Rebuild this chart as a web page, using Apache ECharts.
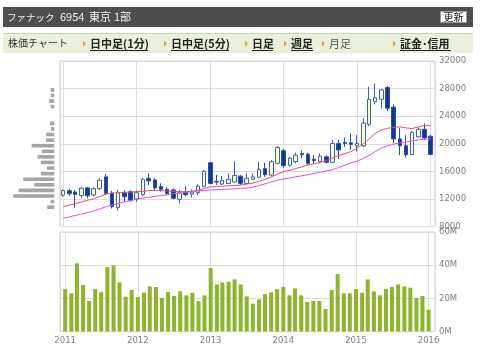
<!DOCTYPE html>
<html><head><meta charset="utf-8">
<script src="https://cdn.jsdelivr.net/npm/echarts@6/dist/echarts.min.js"></script>
<style>html,body{margin:0;padding:0;background:#fff}#c{width:480px;height:359px}</style>
</head><body><div id="c"></div>
<script>
// ---- data ----
const months = ['2011-01','2011-02','2011-03','2011-04','2011-05','2011-06','2011-07','2011-08','2011-09','2011-10','2011-11','2011-12',
'2012-01','2012-02','2012-03','2012-04','2012-05','2012-06','2012-07','2012-08','2012-09','2012-10','2012-11','2012-12',
'2013-01','2013-02','2013-03','2013-04','2013-05','2013-06','2013-07','2013-08','2013-09','2013-10','2013-11','2013-12',
'2014-01','2014-02','2014-03','2014-04','2014-05','2014-06','2014-07','2014-08','2014-09','2014-10','2014-11','2014-12',
'2015-01','2015-02','2015-03','2015-04','2015-05','2015-06','2015-07','2015-08','2015-09','2015-10','2015-11','2015-12','2016-01'];
const open = [12550,13190,13000,12500,13600,12570,13500,15200,12850,10750,12900,13050,
12000,12650,15000,14750,13800,13400,13300,11950,13000,12700,12900,13850,
17250,14550,14150,14250,14450,15300,14250,14850,15150,16400,15450,17150,
19000,16900,17400,18600,18500,17750,17400,18100,17300,20050,20200,20150,
19700,19700,22800,26100,26450,28150,25300,20700,19700,18450,21000,22100,21100];
const close = [13200,12750,12650,13550,12450,13480,14700,12800,10900,12900,12300,11800,
12900,14850,14600,13600,13400,12800,12100,12900,12600,13000,13850,16000,
14250,14450,14650,14850,15400,14250,15000,15200,16300,15500,17400,19450,
16800,17900,18350,18400,17150,17550,18200,17300,20050,19100,20050,19900,
20050,23000,26450,26650,27800,25150,20700,19700,18400,21650,22100,20850,18450];
const low = [12320,12460,10750,12100,12100,12350,13300,12550,10600,10300,11600,11600,
11600,12400,14000,13300,13050,12550,11940,11350,12400,12200,12550,13650,
14150,14000,14000,14150,14350,14000,14100,14750,15000,15200,15300,17050,
16500,16650,17150,17900,16900,17050,17150,17150,17250,17800,19550,19100,
18850,19550,22600,25700,25100,24750,20050,18350,18000,18350,20900,20550,18350];
const high = [13390,13480,13300,13680,13750,13700,15000,15600,13150,13300,13250,13250,
13200,15050,15700,15000,14250,13700,13540,13300,13850,13400,14100,16200,
17350,15500,15350,15700,17500,15450,15700,15700,17400,17250,17650,19650,
19200,18100,18700,19000,18700,18350,18600,18400,20550,20550,20900,21500,
21250,23700,28250,28750,27950,28400,25700,22300,21250,21850,22350,22950,21200];
const volume = [25.6,23.0,41.1,28.0,18.4,25.6,23.8,38.9,39.9,29.6,21.0,25.0,
20.8,23.4,27.2,26.8,20.2,23.8,21.4,24.2,21.8,23.4,18.2,21.8,
38.3,28.4,29.6,30.0,31.4,28.4,21.2,16.8,19.4,22.6,23.6,25.6,
26.8,21.8,26.0,21.8,17.8,18.4,18.4,13.6,25.0,34.6,23.0,23.0,
25.6,23.4,31.4,24.2,21.8,25.6,26.8,28.4,27.2,26.4,20.2,21.4,13.1];
const maShort = [10870,11100,11330,11550,11800,12000,12350,12700,12850,12900,12950,13000,
13050,13100,13200,13250,13200,13150,13100,13050,13050,13100,13250,13500,
13750,13800,13850,13900,13950,14000,14150,14300,14550,14850,15200,15600,
15950,16150,16400,16650,16900,17100,17300,17550,17950,18300,18550,18850,
19350,20000,20700,21500,22000,22250,22350,22450,22300,22200,22450,22650,22600];
const maLong = [9190,9400,9600,9800,10000,10250,10550,10870,11100,11350,11550,11750,
11950,12100,12250,12380,12470,12600,12750,12850,12950,13050,13150,13220,
13290,13330,13370,13420,13470,13540,13560,13700,13950,14200,14450,14700,
14900,15050,15200,15350,15500,15700,15860,16050,16250,16550,16900,17200,
17500,17850,18300,18850,19350,19700,19950,20100,20250,20400,20550,20650,20700];
const bandPrices = [10400,11210,12020,12830,13640,14450,15260,16070,16880,17690,18500,19310,20120,20930,21740,22550,23360,24170,24980,25790,26600,27410];
const bandStep = 810;
const bandVolume = [40,21,234,203,114,177,76,42,76,95,70,129,47,47,19,25,0,0,21,30,21,21];
const priceMin = 8000, priceMax = 32000, priceInterval = 4000;
const volMin = 0, volMax = 60, volInterval = 20;
const yearLabels = ['2011','2012','2013','2014','2015','2016'];
const navItems = ['日中足(1分)','日中足(5分)','日足','週足','月足','証金･信用'];

// ---- layout ----
const L = 60, R = 435, pTop = 61, pBot = 226.5, vTop = 232, vBot = 331.5;
const xMin = '2010-12-16', xMax = '2016-01-23';
const priceToY = p => pBot - (p - priceMin) * (pBot - pTop) / (priceMax - priceMin);
const bandTopY = priceToY(bandPrices[bandPrices.length - 1] + bandStep);
const bandBotY = priceToY(bandPrices[0]);

const dates = months.map(m => m + '-01');
const candleData = dates.map((d, i) => [d, open[i], close[i], low[i], high[i]]);

const lblFont = {color: '#808080', fontSize: 8.5, fontFamily: 'DejaVu Sans'};
const splitStyle = {lineStyle: {color: '#dcdcdc', width: 1}};

// header stripe pattern
const pc = document.createElement('canvas'); pc.width = 4; pc.height = 4;
const pctx = pc.getContext('2d');
pctx.fillStyle = '#4b4b4b'; pctx.fillRect(0, 0, 4, 4);
pctx.fillStyle = '#575757';
for (let k = 0; k < 4; k++) pctx.fillRect(3 - k, k, 1, 1);

const jp = 'Noto Sans CJK JP';
const graphic = [
  {type: 'rect', shape: {x: 3, y: 7, width: 470, height: 20}, style: {fill: {image: pc, repeat: 'repeat'}}},
  {type: 'text', x: 7, y: 17, style: {text: 'ファナック', font: '9.5px "' + jp + '"', fill: '#f2f2f2', verticalAlign: 'middle'}},
  {type: 'text', x: 60, y: 17, style: {text: '6954', font: '11px "' + jp + '"', fill: '#f2f2f2', verticalAlign: 'middle'}},
  {type: 'text', x: 89, y: 17, style: {text: '東京', font: '11px "' + jp + '"', fill: '#f2f2f2', verticalAlign: 'middle'}},
  {type: 'text', x: 114, y: 17, style: {text: '1部', font: '11px "' + jp + '"', fill: '#f2f2f2', verticalAlign: 'middle'}},
  {type: 'rect', shape: {x: 440.5, y: 11.5, width: 26, height: 11}, style: {fill: '#ffffff', stroke: '#9a9a9a', lineWidth: 1}},
  {type: 'text', x: 453.5, y: 17.5, style: {text: '更新', font: '10px "' + jp + '"', fill: '#222', align: 'center', verticalAlign: 'middle'}},
  {type: 'rect', shape: {x: 3, y: 33, width: 470, height: 20}, style: {fill: '#e9f1da'}},
  {type: 'line', shape: {x1: 3, y1: 33.5, x2: 473, y2: 33.5}, style: {stroke: '#c9d2bd', lineWidth: 1}},
  {type: 'text', x: 8, y: 43.5, style: {text: '株価チャート', font: '10px "' + jp + '"', fill: '#333', verticalAlign: 'middle'}}
];
const navX = [90, 171, 252, 291, 329, 400];
navItems.forEach((t, i) => {
  const cur = t === '月足';
  const x = navX[i];
  graphic.push({type: 'polygon', shape: {points: [[x - 7, 40.5], [x - 4, 43.5], [x - 7, 46.5]]}, style: {fill: '#f0a020'}});
  graphic.push({type: 'text', x: x, y: 43.5, style: {text: t, font: (cur ? '' : 'bold ') + '11px "' + jp + '"', fill: cur ? '#555' : '#222', verticalAlign: 'middle'}});
});
[[90, 148], [171, 229], [252, 273], [291, 313], [400, 451]].forEach(s => {
  graphic.push({type: 'line', shape: {x1: s[0], y1: 50.5, x2: s[1], y2: 50.5}, style: {stroke: '#222', lineWidth: 1}});
});

const chart = echarts.init(document.getElementById('c'), null, {renderer: 'canvas'});
chart.setOption({
  animation: false,
  backgroundColor: '#ffffff',
  graphic: graphic,
  grid: [
    {left: L, width: R - L, top: pTop, height: pBot - pTop, show: true, borderColor: '#cfcfcf', borderWidth: 1},
    {left: L, width: R - L, top: vTop, height: vBot - vTop, show: true, borderColor: '#cfcfcf', borderWidth: 1},
    {left: 10, width: 44.3, top: bandTopY, height: bandBotY - bandTopY, show: false}
  ],
  xAxis: [
    {type: 'time', gridIndex: 0, min: xMin, max: xMax, axisLabel: {show: false}, axisTick: {show: false}, axisLine: {show: false}, splitLine: {show: true, lineStyle: splitStyle.lineStyle}},
    {type: 'time', gridIndex: 1, min: xMin, max: xMax, axisTick: {show: false}, axisLine: {show: false},
      splitLine: {show: true, lineStyle: splitStyle.lineStyle},
      axisLabel: Object.assign({margin: 5, hideOverlap: false, showMinLabel: true, showMaxLabel: true, formatter: function (v) {
        const d = new Date(v);
        if (d.getMonth() === 0 && d.getDate() === 1 && d.getHours() === 0) {
          const y = String(d.getFullYear());
          return yearLabels.indexOf(y) >= 0 ? y : '';
        }
        return '';
      }}, lblFont)},
    {type: 'value', gridIndex: 2, inverse: true, min: 0, max: 252.5, show: false}
  ],
  yAxis: [
    {type: 'value', gridIndex: 0, position: 'right', min: priceMin, max: priceMax, interval: priceInterval, axisLine: {show: false}, axisTick: {show: false}, splitLine: splitStyle,
      axisLabel: Object.assign({margin: 4, formatter: v => String(v)}, lblFont)},
    {type: 'value', gridIndex: 1, position: 'right', min: volMin, max: volMax, interval: volInterval, axisLine: {show: false}, axisTick: {show: false}, splitLine: splitStyle,
      axisLabel: Object.assign({margin: 4, formatter: v => String(v) + 'M'}, lblFont)},
    {type: 'category', gridIndex: 2, data: bandPrices.map(String), show: false}
  ],
  series: [
    {type: 'candlestick', xAxisIndex: 0, yAxisIndex: 0, data: candleData, barWidth: 4,
      itemStyle: {color: '#fdfdc6', color0: '#0c3a9c', borderColor: '#3b63b5', borderColor0: '#2c52a8', borderWidth: 1}},
    {type: 'line', xAxisIndex: 0, yAxisIndex: 0, data: dates.map((d, i) => [d, maShort[i]]), symbol: 'none', lineStyle: {color: '#e4506c', width: 1}},
    {type: 'line', xAxisIndex: 0, yAxisIndex: 0, data: dates.map((d, i) => [d, maLong[i]]), symbol: 'none', lineStyle: {color: '#e050f0', width: 1}},
    {type: 'bar', xAxisIndex: 1, yAxisIndex: 1, data: dates.map((d, i) => [d, volume[i]]), barWidth: 4, itemStyle: {color: '#8cb52b'}},
    {type: 'bar', xAxisIndex: 2, yAxisIndex: 2, data: bandVolume, barWidth: 3.6, itemStyle: {color: '#a4a4a4'}}
  ]
});
</script></body></html>
